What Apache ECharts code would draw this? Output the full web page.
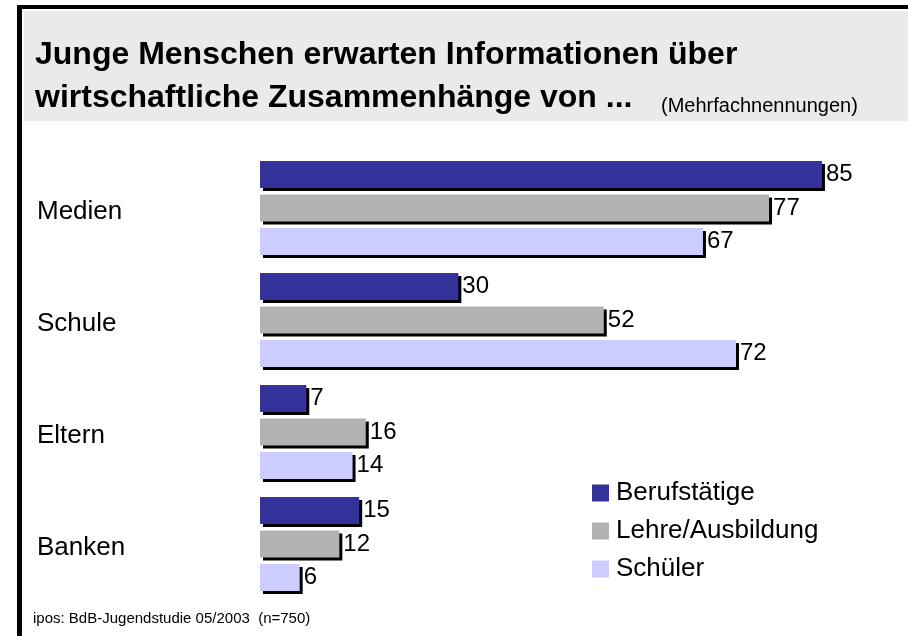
<!DOCTYPE html>
<html><head><meta charset="utf-8">
<script src="https://cdn.jsdelivr.net/npm/echarts@6/dist/echarts.min.js"></script>
<style>html,body{margin:0;padding:0;background:#fff}#c{width:908px;height:636px}</style>
</head><body><div id="c"></div>
<script>
const categories = ['Medien', 'Schule', 'Eltern', 'Banken'];
const seriesNames = ['Berufstätige', 'Lehre/Ausbildung', 'Schüler'];
const berufstaetige = [85, 30, 7, 15];
const lehre = [77, 52, 16, 12];
const schueler = [67, 72, 14, 6];
const colors = ['#333399', '#b2b2b2', '#ccccff'];

const chart = echarts.init(document.getElementById('c'));
const font = '"Liberation Sans", Arial, sans-serif';
const dataSets = [berufstaetige, lehre, schueler];
const series = dataSets.map((d, i) => ({
  name: seriesNames[i],
  type: 'bar',
  data: d,
  barWidth: 27,
  barGap: '24%',
  itemStyle: { color: colors[i], shadowColor: '#000', shadowOffsetX: 3, shadowOffsetY: 3, shadowBlur: 0 },
  label: { show: true, position: 'right', distance: 4, color: '#000', fontSize: 24, fontFamily: font },
  emphasis: { disabled: true },
  animation: false
}));

chart.setOption({
  animation: false,
  grid: { left: 260, top: 152, width: 595, height: 448 },
  xAxis: { type: 'value', min: 0, max: 90, show: false },
  yAxis: {
    type: 'category', data: categories, inverse: true,
    axisLine: { show: false }, axisTick: { show: false },
    axisLabel: {
      align: 'left', margin: 223, color: '#000', fontSize: 26, fontFamily: font,
      formatter: '{a|{value}}',
      rich: { a: { fontSize: 26, fontFamily: font, color: '#000', padding: [7, 0, 0, 0] } }
    }
  },
  legend: {
    orient: 'vertical', left: 592, top: 480, padding: 0, itemWidth: 17, itemHeight: 17, itemGap: 12,
    icon: 'rect',
    itemStyle: { shadowColor: 'transparent', shadowBlur: 0, shadowOffsetX: 0, shadowOffsetY: 0 },
    textStyle: { fontSize: 26, color: '#000', fontFamily: font, padding: [0, 0, 0, 2] },
    data: seriesNames
  },
  graphic: [
    { type: 'rect', z: -10, shape: { x: 24, y: 11, width: 884, height: 110 }, style: { fill: '#eaeaea' } },
    { type: 'rect', z: 10, shape: { x: 17, y: 5, width: 891, height: 4 }, style: { fill: '#000' } },
    { type: 'rect', z: 10, shape: { x: 17, y: 5, width: 5, height: 631 }, style: { fill: '#000' } },
    { type: 'text', x: 35, y: 55, style: { text: 'Junge Menschen erwarten Informationen über', fill: '#000', font: 'bold 32px "Liberation Sans", Arial, sans-serif', verticalAlign: 'middle' } },
    { type: 'text', x: 35, y: 98, style: { text: 'wirtschaftliche Zusammenhänge von ...', fill: '#000', font: 'bold 32px "Liberation Sans", Arial, sans-serif', verticalAlign: 'middle' } },
    { type: 'text', x: 661, y: 106, style: { text: '(Mehrfachnennungen)', fill: '#000', font: '20px "Liberation Sans", Arial, sans-serif', verticalAlign: 'middle' } },
    { type: 'text', x: 33, y: 619, style: { text: 'ipos: BdB-Jugendstudie 05/2003  (n=750)', fill: '#000', font: '15px "Liberation Sans", Arial, sans-serif', verticalAlign: 'middle' } }
  ],
  series: series
});
</script></body></html>
